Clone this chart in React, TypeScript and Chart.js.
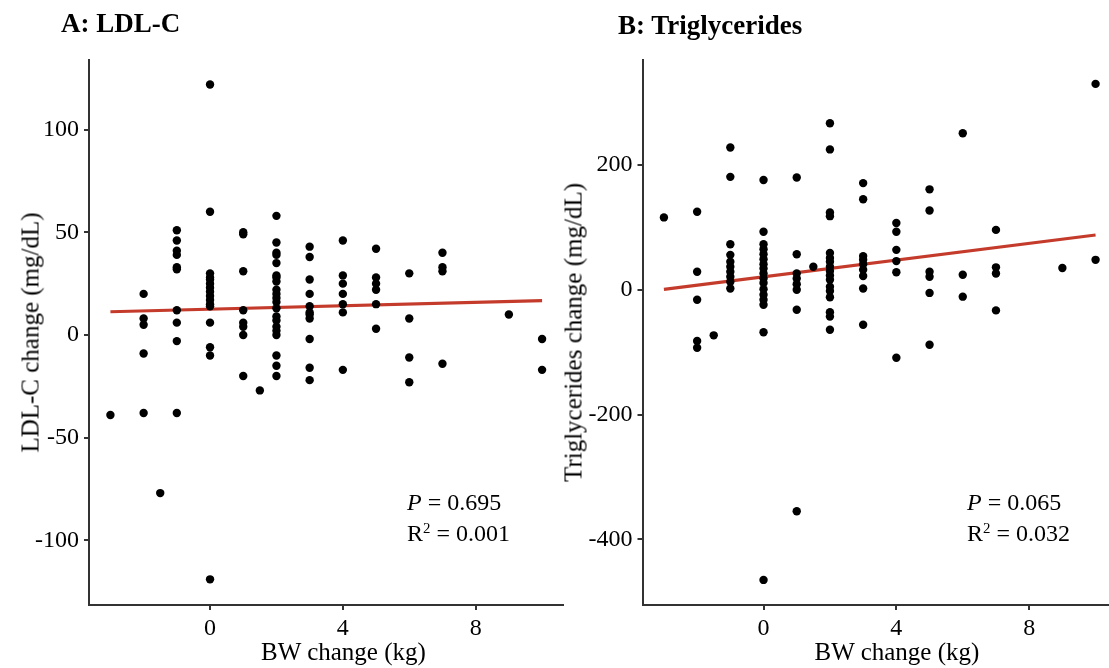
import React, { useEffect, useRef } from "react";
import { Chart, registerables } from "chart.js";

Chart.register(...registerables);

// ---------- data ----------
const xTicks = [0, 4, 8];
const ldlTicks = [-100, -50, 0, 50, 100];
const tgTicks = [-400, -200, 0, 200];

// Panel A: LDL-C change vs BW change
const ldlX = [
  -3,
  -2, -2, -2, -2, -2,
  -1.5,
  -1, -1, -1, -1, -1, -1, -1, -1, -1, -1,
  0, 0, 0, 0, 0, 0, 0, 0, 0, 0, 0, 0, 0, 0, 0, 0,
  1, 1, 1, 1, 1, 1, 1, 1,
  1.5,
  2, 2, 2, 2, 2, 2, 2, 2, 2, 2, 2, 2, 2, 2, 2, 2, 2, 2, 2, 2, 2,
  3, 3, 3, 3, 3, 3, 3, 3, 3, 3, 3,
  4, 4, 4, 4, 4, 4, 4,
  5, 5, 5, 5, 5, 5,
  6, 6, 6, 6,
  7, 7, 7, 7,
  9,
  10, 10,
];
const ldlY = [
  -39,
  20, 8, 5, -9, -38,
  -77,
  51, 46, 41, 39, 33, 32, 12, 6, -3, -38,
  122, 60, 30, 28, 27, 25, 23, 21, 19, 17, 15, 14, 6, -6, -10, -119,
  50, 49, 31, 12, 6, 4, 0, -20,
  -27,
  58, 45, 40, 39, 35, 29, 28, 26, 22, 20, 18, 16, 13, 9, 7, 4, 2, 0, -10, -15, -20,
  43, 38, 27, 20, 14, 11, 10, 8, -2, -16, -22,
  46, 29, 25, 20, 15, 11, -17,
  42, 28, 25, 22, 15, 3,
  30, 8, -11, -23,
  40, 33, 31, -14,
  10,
  -2, -17,
];
const ldlFitX = [-3, 10];
const ldlFitY = [11.3, 16.7];

// Panel B: Triglycerides change vs BW change
const tgX = [
  -3,
  -2, -2, -2, -2, -2,
  -1.5,
  -1, -1, -1, -1, -1, -1, -1, -1, -1, -1,
  0, 0, 0, 0, 0, 0, 0, 0, 0, 0, 0, 0, 0, 0, 0, 0, 0,
  1, 1, 1, 1, 1, 1, 1, 1,
  1.5,
  2, 2, 2, 2, 2, 2, 2, 2, 2, 2, 2, 2, 2, 2, 2, 2, 2,
  3, 3, 3, 3, 3, 3, 3, 3, 3,
  4, 4, 4, 4, 4, 4,
  5, 5, 5, 5, 5, 5,
  6, 6, 6,
  7, 7, 7, 7,
  9,
  10, 10,
];
const tgY = [
  116,
  125, 29, -16, -82, -93,
  -73,
  228, 181, 73, 56, 45, 37, 29, 21, 13, 2,
  176, 93, 73, 65, 57, 49, 41, 34, 26, 18, 11, 1, -8, -16, -24, -68, -465,
  180, 57, 26, 18, 9, 0, -32, -355,
  37,
  267, 225, 124, 118, 59, 51, 45, 37, 30, 23, 16, 5, -2, -12, -36, -43, -64,
  171, 145, 54, 48, 41, 32, 22, 2, -56,
  107, 93, 64, 46, 28, -109,
  161, 127, 29, 21, -5, -88,
  251, 24, -11,
  96, 36, 26, -33,
  35,
  330, 48,
];
const tgFitX = [-3, 10];
const tgFitY = [0.8, 87.8];

// ---------- styling ----------
const FONT = "'Liberation Serif', 'Times New Roman', Times, serif";
const AXIS = "#333333";
const RED = "#c43b2b";

type PanelProps = {
  xs: number[];
  ys: number[];
  fitX: number[];
  fitY: number[];
  yTicks: number[];
  yMin: number;
  yMax: number;
  left: number;
  width: number;
  yWidth: number;
  padRight: number;
};

function Panel(p: PanelProps) {
  const ref = useRef<HTMLCanvasElement | null>(null);
  useEffect(() => {
    if (!ref.current) return;
    const pts = p.xs.map((x, i) => ({ x, y: p.ys[i] }));
    const fit = p.fitX.map((x, i) => ({ x, y: p.fitY[i] }));
    const tickStyle = { color: "#000", font: { size: 24, family: FONT } };
    const gridStyle = {
      display: true,
      drawOnChartArea: false,
      drawTicks: true,
      tickLength: 5,
      color: AXIS,
      lineWidth: 2,
    };
    const chart = new Chart(ref.current, {
      type: "scatter",
      data: {
        datasets: [
          {
            type: "scatter",
            data: pts,
            pointRadius: 4.2,
            pointBackgroundColor: "#000",
            pointBorderWidth: 0,
            order: 0,
          } as any,
          {
            type: "line",
            data: fit,
            borderColor: RED,
            borderWidth: 3.2,
            pointRadius: 0,
            fill: false,
            order: 1,
          } as any,
        ],
      },
      options: {
        animation: false,
        responsive: false,
        layout: { padding: { left: 0, top: 60, right: p.padRight, bottom: 0 } },
        plugins: { legend: { display: false }, tooltip: { enabled: false } },
        scales: {
          x: {
            type: "linear",
            min: -3.645,
            max: 10.63,
            afterBuildTicks: (s: any) => {
              s.ticks = xTicks.map((v) => ({ value: v }));
            },
            afterFit: (s: any) => {
              s.height = 63;
            },
            grid: gridStyle,
            border: { display: true, color: AXIS, width: 2 },
            ticks: {
              ...tickStyle,
              padding: 4,
              maxRotation: 0,
              autoSkip: false,
              callback: (v: any) => String(v),
            },
          },
          y: {
            type: "linear",
            min: p.yMin,
            max: p.yMax,
            afterBuildTicks: (s: any) => {
              s.ticks = p.yTicks.map((v) => ({ value: v }));
            },
            afterFit: (s: any) => {
              s.width = p.yWidth;
            },
            grid: gridStyle,
            border: { display: true, color: AXIS, width: 2 },
            ticks: {
              ...tickStyle,
              padding: 5,
              autoSkip: false,
              callback: (v: any) => String(v),
            },
          },
        },
      } as any,
    });
    return () => chart.destroy();
  }, []);
  return (
    <canvas
      ref={ref}
      width={p.width}
      height={668}
      style={{ position: "absolute", left: p.left, top: 0, width: p.width, height: 668 }}
    />
  );
}

const txt: React.CSSProperties = {
  position: "absolute",
  fontFamily: FONT,
  color: "#000",
  whiteSpace: "nowrap",
};

function Stats({ left, p, r2 }: { left: number; p: string; r2: string }) {
  return (
    <div style={{ ...txt, left, top: 487, fontSize: 24, lineHeight: "31px" }}>
      <div>
        <i>P</i> = {p}
      </div>
      <div>
        R<sup style={{ fontSize: "0.62em", lineHeight: 0, verticalAlign: "0.55em" }}>2</sup> = {r2}
      </div>
    </div>
  );
}

function YTitle({ cx, text }: { cx: number; text: string }) {
  return (
    <div
      style={{
        ...txt,
        left: cx - 200,
        top: 332 - 12.5,
        width: 400,
        height: 25,
        fontSize: 25,
        lineHeight: "25px",
        textAlign: "center",
        transform: "rotate(-90deg)",
        transformOrigin: "50% 50%",
      }}
    >
      {text}
    </div>
  );
}

function XTitle({ cx, text }: { cx: number; text: string }) {
  return (
    <div
      style={{
        ...txt,
        left: cx - 150,
        top: 639,
        width: 300,
        fontSize: 25,
        lineHeight: "25px",
        textAlign: "center",
      }}
    >
      {text}
    </div>
  );
}

export default function App() {
  return (
    <div
      style={{
        position: "absolute",
        left: 0,
        top: 0,
        width: 1109,
        height: 668,
        overflow: "hidden",
        background: "#fff",
      }}
    >
      <Panel
        xs={ldlX}
        ys={ldlY}
        fitX={ldlFitX}
        fitY={ldlFitY}
        yTicks={ldlTicks}
        yMin={-131.5}
        yMax={133.9}
        left={0}
        width={580}
        yWidth={89}
        padRight={17}
      />
      <Panel
        xs={tgX}
        ys={tgY}
        fitX={tgFitX}
        fitY={tgFitY}
        yTicks={tgTicks}
        yMin={-505.2}
        yMax={368.3}
        left={560}
        width={580}
        yWidth={82.5}
        padRight={23.5}
      />
      <div style={{ ...txt, left: 61, top: 9.7, fontSize: 27, lineHeight: "27px", fontWeight: "bold" }}>
        A: LDL-C
      </div>
      <div style={{ ...txt, left: 618, top: 12.4, fontSize: 27, lineHeight: "27px", fontWeight: "bold" }}>
        B: Triglycerides
      </div>
      <YTitle cx={29.9} text="LDL-C change (mg/dL)" />
      <YTitle cx={572.5} text="Triglycerides change (mg/dL)" />
      <XTitle cx={343.5} text="BW change (kg)" />
      <XTitle cx={897} text="BW change (kg)" />
      <Stats left={407} p="0.695" r2="0.001" />
      <Stats left={967} p="0.065" r2="0.032" />
    </div>
  );
}
